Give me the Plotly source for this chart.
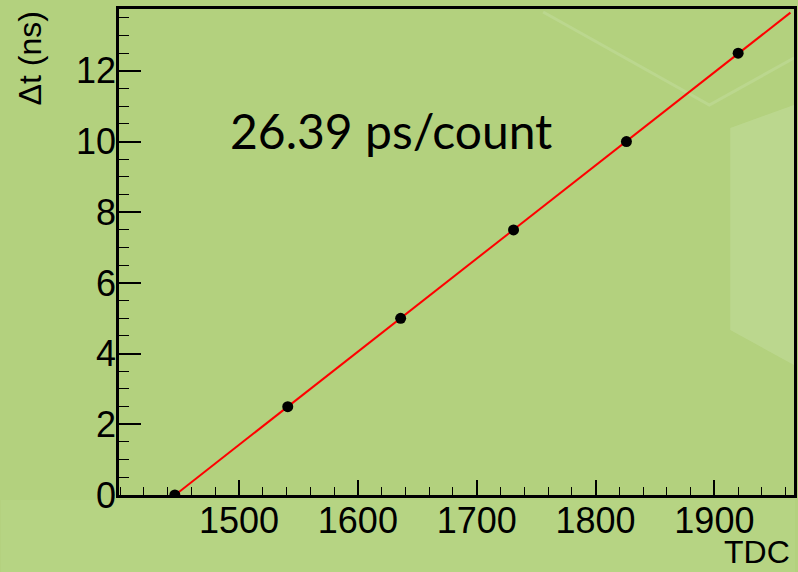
import numpy as np
import plotly.graph_objects as go

# Data
tdc = [1446, 1541, 1636, 1731, 1826, 1920]
dt_ns = [0, 2.5, 5, 7.5, 10, 12.5]
fit_range = [1446, 1964]
x_range = [1399, 1967]
y_range = [0, 13.75]
x_ticks = [1500, 1600, 1700, 1800, 1900]
y_ticks = [0, 2, 4, 6, 8, 10, 12]
fit_label = "26.39 ps/count"

slope, intercept = np.polyfit(tdc, dt_ns, 1)
fx = np.array(fit_range, dtype=float)
fy = slope * fx + intercept

W, H = 798, 572
L, R, T, B = 119, 1, 9, 77
pw, ph = W - L - R, H - T - B

def px(xp):
    return (xp - L) / pw

def py(yp):
    return (H - B - yp) / ph

fig = go.Figure()
fig.add_trace(go.Scatter(x=fx, y=fy, mode="lines",
                         line=dict(color="#ff0000", width=2), hoverinfo="skip"))
fig.add_trace(go.Scatter(x=tdc, y=dt_ns, mode="markers",
                         marker=dict(color="black", size=11)))

font_ax = "Liberation Sans, Arial, sans-serif"

shapes = [
    # soft lighter band near bottom of slide background
    dict(type="rect", xref="paper", yref="paper", x0=px(0), x1=px(W), y0=py(H), y1=py(500),
         fillcolor="#bcd98c", line_width=0, layer="below", opacity=0.4),
    # lighter panel on the right of slide background
    dict(type="path", xref="paper", yref="paper",
         path=(f"M {px(733)},{py(128)} L {px(797)},{py(105)} L {px(797)},{py(365)} "
               f"L {px(733)},{py(330)} Z"),
         fillcolor="#bfda96", line_width=0, layer="below", opacity=0.7),
    # faint diagonal lines of slide background
    dict(type="path", xref="paper", yref="paper",
         path=f"M {px(545)},{py(12)} L {px(712)},{py(105)} L {px(797)},{py(58)}",
         line=dict(color="#bbd78e", width=3), layer="below"),
]

fig.update_layout(
    width=W, height=H,
    margin=dict(l=L, r=R, t=T, b=B),
    paper_bgcolor="#b3d17e",
    plot_bgcolor="rgba(0,0,0,0)",
    showlegend=False,
    shapes=shapes,
    xaxis=dict(range=x_range, tickvals=x_ticks, ticks="inside", ticklen=15, tickwidth=1.5,
               tickcolor="black", showgrid=False, zeroline=False,
               showline=True, linecolor="black", linewidth=2.5, mirror=True,
               ticklabelstandoff=-8,
               tickfont=dict(family=font_ax, size=36, color="black"),
               minor=dict(dtick=20, ticks="inside", ticklen=8, tickwidth=1.2, tickcolor="black",
                          showgrid=False)),
    yaxis=dict(range=y_range, tickvals=y_ticks, ticks="inside", ticklen=22, tickwidth=1.5,
               tickcolor="black", showgrid=False, zeroline=False,
               showline=True, linecolor="black", linewidth=2.5, mirror=True,
               ticklabelstandoff=-7,
               tickfont=dict(family=font_ax, size=36, color="black"),
               minor=dict(dtick=0.5, ticks="inside", ticklen=10, tickwidth=1.2, tickcolor="black",
                          showgrid=False)),
    annotations=[
        dict(text=fit_label, xref="paper", yref="paper", x=px(392), y=py(130),
             xanchor="center", yanchor="middle", showarrow=False,
             font=dict(family="Lato, Carlito, sans-serif", size=48, color="black")),
        dict(text="TDC", xref="paper", yref="paper", x=px(795), y=py(552),
             xanchor="right", yanchor="middle", showarrow=False,
             font=dict(family=font_ax, size=32, color="black")),
        dict(text="Δt (ns)", xref="paper", yref="paper", x=px(30), y=1,
             xanchor="center", yanchor="top", textangle=-90, showarrow=False,
             font=dict(family=font_ax, size=32, color="black")),
    ],
)

fig.write_html("out.html")
